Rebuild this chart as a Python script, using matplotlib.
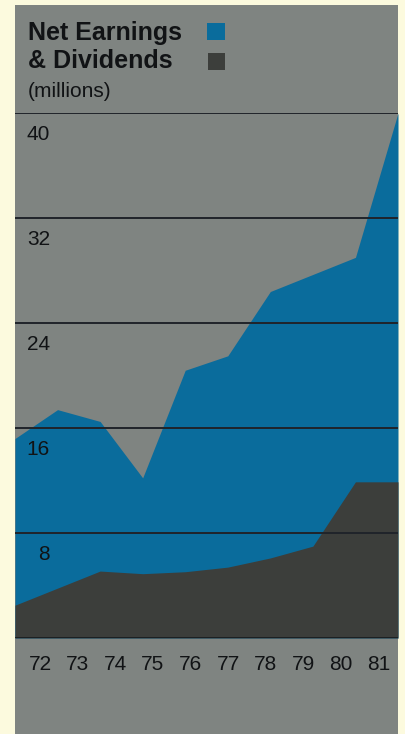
import numpy as np
import matplotlib.pyplot as plt
from matplotlib.patches import Rectangle

years = ["72", "73", "74", "75", "76", "77", "78", "79", "80", "81"]
net_earnings = [15.2, 17.4, 16.5, 12.2, 20.4, 21.5, 26.4, 27.7, 29.0, 40.0]
dividends = [2.5, 3.8, 5.1, 4.9, 5.05, 5.4, 6.1, 7.0, 11.9, 11.9]
grid_values = [8, 16, 24, 32, 40]

cream = "#fcfade"
panel = "#7f8481"
blue = "#0a6c9c"
dark = "#3c3e3b"
ink = "#111315"

W, H = 405, 734
fig = plt.figure(figsize=(W / 100, H / 100), dpi=100)
fig.patch.set_facecolor(cream)
plt.rcParams["font.family"] = ["Liberation Sans", "DejaVu Sans"]

# grey card behind everything
fig.add_artist(Rectangle((15 / W, 0), (398 - 15) / W, (734 - 5) / H,
                         transform=fig.transFigure, facecolor=panel,
                         edgecolor="none", zorder=0))

ax = fig.add_axes([15 / W, 96 / H, (398 - 15) / W, 525 / H])
ax.set_facecolor(panel)
x = np.arange(len(years))
ax.fill_between(x, 0, net_earnings, color=blue, lw=0, zorder=1)
ax.fill_between(x, 0, dividends, color=dark, lw=0, zorder=2)
ax.set_xlim(0, len(years) - 1)
ax.set_ylim(0, 40)

for v in grid_values:
    ax.axhline(v, color="#20242a", lw=1.4, zorder=3)
    ax.annotate(str(v), xy=(0, v), xycoords=("axes fraction", "data"),
                xytext=(25.2, -19.4), textcoords="offset points",
                ha="right", va="baseline", fontsize=15, color=ink, zorder=4)
ax.axhline(0, color="#1a1d20", lw=2, zorder=3)

for s in ax.spines.values():
    s.set_visible(False)
ax.set_yticks([])

# year labels sit evenly spaced under the plot
label_pos = np.linspace(0.59, 8.54, len(years))
ax.set_xticks(label_pos)
ax.set_xticklabels(years, fontsize=15, color=ink)
ax.tick_params(axis="x", length=0, pad=12)

fig.text(28 / W, 1 - 40 / H, "Net Earnings", fontsize=18, fontweight="bold",
         color=ink, va="baseline", ha="left")
fig.text(28 / W, 1 - 68 / H, "& Dividends", fontsize=18, fontweight="bold",
         color=ink, va="baseline", ha="left")
fig.text(28 / W, 1 - 97 / H, "(millions)", fontsize=15,
         color=ink, va="baseline", ha="left")
fig.add_artist(Rectangle((207 / W, 1 - 40 / H), 18 / W, 17 / H,
                         transform=fig.transFigure, facecolor=blue, edgecolor="none"))
fig.add_artist(Rectangle((208 / W, 1 - 70 / H), 17 / W, 17 / H,
                         transform=fig.transFigure, facecolor=dark, edgecolor="none"))

fig.savefig("out.png", dpi=100, facecolor=cream)
